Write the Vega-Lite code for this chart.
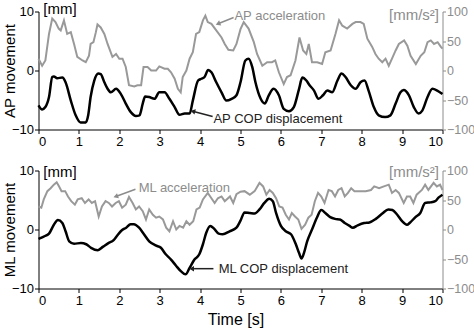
{
"$schema": "https://vega.github.io/schema/vega-lite/v6.json",
"padding": {"left": 1.5, "top": 1.5, "right": 0, "bottom": 2},
"config": {"font": "Liberation Sans", "view": {"stroke": null},
  "axis": {"grid": false, "labelFontSize": 13, "titleFontSize": 15, "titleFontWeight": "normal", "labelColor": "#000", "domainColor": "#000", "tickColor": "#000", "titleColor": "#000", "tickSize": 4, "labelPadding": 2, "labelFont": "Liberation Sans", "titleFont": "Liberation Sans"}},
"spacing": 41,
"bounds": "flush",
"datasets": {
"ap_cop": [{"t":0,"v":-5.9},{"t":0.09,"v":-6.6},{"t":0.17,"v":-6.2},{"t":0.26,"v":-4.5},{"t":0.34,"v":-1.1},{"t":0.38,"v":-1.0},{"t":0.46,"v":-1.3},{"t":0.59,"v":-1.2},{"t":0.67,"v":-2.0},{"t":0.8,"v":-5.1},{"t":0.92,"v":-7.6},{"t":1.04,"v":-8.8},{"t":1.17,"v":-8.8},{"t":1.23,"v":-7.6},{"t":1.29,"v":-4.5},{"t":1.38,"v":-1.7},{"t":1.48,"v":-0.5},{"t":1.54,"v":-0.6},{"t":1.63,"v":-2.0},{"t":1.71,"v":-3.1},{"t":1.79,"v":-3.7},{"t":1.92,"v":-3.1},{"t":2.04,"v":-4.0},{"t":2.16,"v":-5.6},{"t":2.29,"v":-7.1},{"t":2.41,"v":-7.7},{"t":2.5,"v":-7.6},{"t":2.58,"v":-5.6},{"t":2.64,"v":-4.4},{"t":2.74,"v":-4.5},{"t":2.87,"v":-4.8},{"t":2.99,"v":-3.7},{"t":3.12,"v":-3.7},{"t":3.24,"v":-4.8},{"t":3.37,"v":-6.2},{"t":3.49,"v":-7.5},{"t":3.62,"v":-7.3},{"t":3.74,"v":-7.3},{"t":3.82,"v":-5.1},{"t":3.95,"v":-1.7},{"t":4.03,"v":-1.4},{"t":4.11,"v":-1.1},{"t":4.2,"v":0.1},{"t":4.28,"v":-0.3},{"t":4.4,"v":-2.0},{"t":4.53,"v":-3.7},{"t":4.65,"v":-5.1},{"t":4.78,"v":-4.8},{"t":4.9,"v":-4.2},{"t":5.0,"v":-2.0},{"t":5.12,"v":1.7},{"t":5.2,"v":2.0},{"t":5.29,"v":0.6},{"t":5.37,"v":-2.0},{"t":5.5,"v":-4.8},{"t":5.6,"v":-5.6},{"t":5.7,"v":-4.2},{"t":5.82,"v":-3.1},{"t":5.95,"v":-4.2},{"t":6.07,"v":-6.5},{"t":6.2,"v":-6.9},{"t":6.32,"v":-6.2},{"t":6.45,"v":-3.1},{"t":6.53,"v":-1.2},{"t":6.63,"v":-1.7},{"t":6.71,"v":-2.5},{"t":6.82,"v":-3.4},{"t":6.93,"v":-4.8},{"t":7.04,"v":-4.2},{"t":7.15,"v":-3.4},{"t":7.27,"v":-3.7},{"t":7.4,"v":-1.7},{"t":7.5,"v":-0.5},{"t":7.6,"v":-1.1},{"t":7.73,"v":-2.5},{"t":7.85,"v":-3.1},{"t":7.97,"v":-2.0},{"t":8.07,"v":-1.7},{"t":8.17,"v":-3.4},{"t":8.3,"v":-6.2},{"t":8.42,"v":-7.6},{"t":8.58,"v":-7.9},{"t":8.71,"v":-7.6},{"t":8.84,"v":-5.6},{"t":8.96,"v":-3.7},{"t":9.04,"v":-3.3},{"t":9.17,"v":-4.2},{"t":9.29,"v":-6.2},{"t":9.41,"v":-7.3},{"t":9.5,"v":-6.8},{"t":9.63,"v":-4.5},{"t":9.75,"v":-3.1},{"t":9.87,"v":-3.4},{"t":10,"v":-4.0}],
"ap_acc": [{"t":0,"a":20},{"t":0.09,"a":8},{"t":0.17,"a":17},{"t":0.26,"a":62},{"t":0.34,"a":88},{"t":0.42,"a":82},{"t":0.5,"a":71},{"t":0.55,"a":68},{"t":0.63,"a":85},{"t":0.71,"a":62},{"t":0.8,"a":65},{"t":0.88,"a":45},{"t":0.96,"a":23},{"t":1.09,"a":17},{"t":1.17,"a":14},{"t":1.25,"a":25},{"t":1.29,"a":45},{"t":1.36,"a":48},{"t":1.42,"a":65},{"t":1.46,"a":78},{"t":1.54,"a":73},{"t":1.63,"a":62},{"t":1.71,"a":45},{"t":1.83,"a":23},{"t":1.92,"a":28},{"t":2.0,"a":20},{"t":2.08,"a":20},{"t":2.16,"a":6},{"t":2.24,"a":-25},{"t":2.37,"a":-27},{"t":2.45,"a":-25},{"t":2.54,"a":-25},{"t":2.6,"a":6},{"t":2.7,"a":6},{"t":2.79,"a":0},{"t":2.91,"a":0},{"t":2.99,"a":7},{"t":3.12,"a":3},{"t":3.2,"a":3},{"t":3.28,"a":-3},{"t":3.37,"a":-14},{"t":3.45,"a":-31},{"t":3.52,"a":-37},{"t":3.57,"a":-11},{"t":3.66,"a":0},{"t":3.74,"a":20},{"t":3.82,"a":31},{"t":3.9,"a":62},{"t":3.98,"a":65},{"t":4.07,"a":85},{"t":4.13,"a":93},{"t":4.19,"a":82},{"t":4.28,"a":79},{"t":4.4,"a":68},{"t":4.53,"a":56},{"t":4.61,"a":45},{"t":4.7,"a":35},{"t":4.82,"a":34},{"t":4.9,"a":45},{"t":5.0,"a":70},{"t":5.08,"a":82},{"t":5.2,"a":71},{"t":5.33,"a":48},{"t":5.41,"a":28},{"t":5.54,"a":8},{"t":5.66,"a":14},{"t":5.78,"a":14},{"t":5.86,"a":17},{"t":5.95,"a":-3},{"t":6.07,"a":-23},{"t":6.15,"a":-11},{"t":6.24,"a":-8},{"t":6.36,"a":17},{"t":6.46,"a":56},{"t":6.55,"a":34},{"t":6.63,"a":28},{"t":6.69,"a":45},{"t":6.77,"a":14},{"t":6.9,"a":14},{"t":7.02,"a":11},{"t":7.1,"a":31},{"t":7.23,"a":34},{"t":7.35,"a":62},{"t":7.44,"a":85},{"t":7.52,"a":76},{"t":7.64,"a":71},{"t":7.77,"a":79},{"t":7.85,"a":82},{"t":7.97,"a":82},{"t":8.05,"a":79},{"t":8.14,"a":54},{"t":8.26,"a":40},{"t":8.34,"a":28},{"t":8.42,"a":20},{"t":8.51,"a":14},{"t":8.59,"a":20},{"t":8.67,"a":8},{"t":8.75,"a":20},{"t":8.84,"a":34},{"t":8.92,"a":45},{"t":9.05,"a":51},{"t":9.13,"a":42},{"t":9.21,"a":25},{"t":9.34,"a":11},{"t":9.46,"a":25},{"t":9.55,"a":31},{"t":9.63,"a":48},{"t":9.71,"a":51},{"t":9.79,"a":45},{"t":9.88,"a":48},{"t":9.96,"a":40},{"t":10,"a":37}],
"ml_cop": [{"t":0,"v":-1.6},{"t":0.13,"v":-1.2},{"t":0.26,"v":-0.7},{"t":0.38,"v":0.8},{"t":0.48,"v":1.6},{"t":0.59,"v":1.1},{"t":0.67,"v":-0.3},{"t":0.76,"v":-2.0},{"t":0.88,"v":-2.4},{"t":1.05,"v":-2.3},{"t":1.18,"v":-2.5},{"t":1.3,"v":-3.1},{"t":1.47,"v":-3.5},{"t":1.6,"v":-2.9},{"t":1.73,"v":-2.3},{"t":1.86,"v":-1.8},{"t":1.94,"v":-1.1},{"t":2.07,"v":-0.1},{"t":2.17,"v":0.3},{"t":2.28,"v":0.9},{"t":2.36,"v":0.9},{"t":2.49,"v":0.3},{"t":2.61,"v":-0.8},{"t":2.74,"v":-2.0},{"t":2.9,"v":-2.7},{"t":3.03,"v":-3.1},{"t":3.15,"v":-4.2},{"t":3.28,"v":-5.1},{"t":3.4,"v":-6.1},{"t":3.53,"v":-7.1},{"t":3.64,"v":-7.6},{"t":3.74,"v":-6.5},{"t":3.86,"v":-5.1},{"t":3.98,"v":-4.2},{"t":4.07,"v":-2.5},{"t":4.15,"v":-0.6},{"t":4.25,"v":0.6},{"t":4.35,"v":0.1},{"t":4.46,"v":-0.7},{"t":4.56,"v":-0.8},{"t":4.73,"v":-0.3},{"t":4.9,"v":0.3},{"t":5.0,"v":1.5},{"t":5.1,"v":2.9},{"t":5.23,"v":2.8},{"t":5.35,"v":2.7},{"t":5.47,"v":3.4},{"t":5.59,"v":4.5},{"t":5.71,"v":5.2},{"t":5.8,"v":4.8},{"t":5.88,"v":2.8},{"t":6.0,"v":0.6},{"t":6.12,"v":-0.3},{"t":6.25,"v":-0.8},{"t":6.37,"v":-2.5},{"t":6.45,"v":-4.0},{"t":6.51,"v":-4.9},{"t":6.57,"v":-4.0},{"t":6.65,"v":-2.0},{"t":6.77,"v":0},{"t":6.89,"v":2.0},{"t":7.0,"v":3.3},{"t":7.1,"v":2.8},{"t":7.22,"v":2.1},{"t":7.34,"v":1.8},{"t":7.46,"v":1.7},{"t":7.58,"v":1.1},{"t":7.7,"v":0.6},{"t":7.78,"v":0.3},{"t":7.9,"v":0.7},{"t":8.06,"v":1.1},{"t":8.19,"v":1.2},{"t":8.35,"v":1.8},{"t":8.51,"v":2.7},{"t":8.66,"v":3.4},{"t":8.76,"v":3.3},{"t":8.88,"v":2.5},{"t":9.0,"v":1.4},{"t":9.12,"v":0.8},{"t":9.2,"v":1.2},{"t":9.33,"v":2.1},{"t":9.45,"v":2.8},{"t":9.57,"v":4.5},{"t":9.7,"v":4.6},{"t":9.82,"v":4.8},{"t":9.9,"v":5.4},{"t":10,"v":5.9}],
"ml_acc": [{"t":0,"a":39},{"t":0.07,"a":37},{"t":0.13,"a":51},{"t":0.22,"a":65},{"t":0.3,"a":70},{"t":0.38,"a":76},{"t":0.45,"a":80},{"t":0.51,"a":73},{"t":0.57,"a":65},{"t":0.66,"a":65},{"t":0.73,"a":56},{"t":0.81,"a":48},{"t":0.9,"a":42},{"t":0.97,"a":51},{"t":1.07,"a":53},{"t":1.15,"a":45},{"t":1.24,"a":51},{"t":1.32,"a":45},{"t":1.4,"a":48},{"t":1.49,"a":22},{"t":1.57,"a":39},{"t":1.66,"a":48},{"t":1.74,"a":45},{"t":1.82,"a":39},{"t":1.91,"a":45},{"t":1.99,"a":48},{"t":2.07,"a":37},{"t":2.16,"a":42},{"t":2.24,"a":55},{"t":2.33,"a":45},{"t":2.41,"a":34},{"t":2.49,"a":39},{"t":2.58,"a":31},{"t":2.66,"a":17},{"t":2.74,"a":34},{"t":2.83,"a":25},{"t":2.91,"a":20},{"t":2.99,"a":22},{"t":3.08,"a":17},{"t":3.16,"a":3},{"t":3.24,"a":-3},{"t":3.33,"a":14},{"t":3.41,"a":0},{"t":3.49,"a":6},{"t":3.58,"a":3},{"t":3.66,"a":14},{"t":3.74,"a":8},{"t":3.83,"a":14},{"t":3.91,"a":34},{"t":3.99,"a":37},{"t":4.07,"a":51},{"t":4.19,"a":62},{"t":4.28,"a":53},{"t":4.36,"a":45},{"t":4.44,"a":53},{"t":4.53,"a":56},{"t":4.61,"a":48},{"t":4.74,"a":56},{"t":4.82,"a":45},{"t":4.9,"a":60},{"t":5.0,"a":64},{"t":5.1,"a":65},{"t":5.23,"a":59},{"t":5.35,"a":65},{"t":5.47,"a":79},{"t":5.56,"a":73},{"t":5.64,"a":59},{"t":5.72,"a":67},{"t":5.8,"a":62},{"t":5.88,"a":53},{"t":5.96,"a":39},{"t":6.04,"a":37},{"t":6.12,"a":25},{"t":6.2,"a":17},{"t":6.27,"a":28},{"t":6.35,"a":22},{"t":6.43,"a":17},{"t":6.51,"a":1},{"t":6.6,"a":8},{"t":6.68,"a":20},{"t":6.76,"a":25},{"t":6.84,"a":48},{"t":6.92,"a":62},{"t":7.0,"a":56},{"t":7.08,"a":45},{"t":7.18,"a":67},{"t":7.26,"a":65},{"t":7.34,"a":56},{"t":7.42,"a":67},{"t":7.5,"a":70},{"t":7.58,"a":56},{"t":7.66,"a":62},{"t":7.74,"a":70},{"t":7.82,"a":65},{"t":7.94,"a":65},{"t":8.1,"a":65},{"t":8.23,"a":67},{"t":8.31,"a":73},{"t":8.43,"a":70},{"t":8.55,"a":73},{"t":8.67,"a":76},{"t":8.75,"a":62},{"t":8.84,"a":67},{"t":8.92,"a":62},{"t":9.04,"a":45},{"t":9.12,"a":56},{"t":9.2,"a":56},{"t":9.28,"a":45},{"t":9.36,"a":59},{"t":9.49,"a":67},{"t":9.57,"a":76},{"t":9.65,"a":67},{"t":9.78,"a":79},{"t":9.86,"a":73},{"t":9.94,"a":76},{"t":10,"a":67}],
"ap_notes": [{"t":4.85,"v":9.32,"label":"AP acceleration","kind":"acc"},{"t":4.33,"v":-8.14,"label":"AP COP displacement","kind":"cop"}],
"ap_arrows": [{"t":4.83,"v":8.98,"t2":4.46,"v2":7.97,"kind":"acc","ang":248},{"t":4.31,"v":-7.8,"t2":3.84,"v2":-6.95,"kind":"cop","ang":285}],
"ml_notes": [{"t":2.48,"v":6.97,"label":"ML acceleration","kind":"acc"},{"t":4.46,"v":-6.64,"label":"ML COP displacement","kind":"cop"}],
"ml_arrows": [{"t":2.40,"v":6.81,"t2":1.93,"v2":5.63,"kind":"acc","ang":250},{"t":4.33,"v":-6.64,"t2":3.81,"v2":-6.64,"kind":"cop","ang":270}]
},
"vconcat": [
{
 "width": 404, "height": 118,
 "layer": [
  {"data": {"name": "ap_acc"}, "mark": {"type": "line", "color": "#999999", "strokeWidth": 2},
   "encoding": {
    "x": {"field": "t", "type": "quantitative", "title": null, "scale": {"domain": [0, 10], "nice": false}, "axis": {"values": [0,1,2,3,4,5,6,7,8,9,10]}},
    "y": {"field": "a", "type": "quantitative", "scale": {"domain": [-100, 100], "nice": false},
      "axis": {"orient": "right", "values": [-100,-50,0,50,100], "title": "[mm/s²]", "titleAngle": 0, "titleAlign": "right", "titleBaseline": "middle", "titleX": -4, "titleY": 3, "titleColor": "#8c8c8c", "labelColor": "#8c8c8c", "domainColor": "#8c8c8c", "tickColor": "#8c8c8c", "tickSize": 3, "labelPadding": 1, "labelFontSize": 12.5}}}},
  {"layer": [
    {"data": {"name": "ap_cop"}, "mark": {"type": "line", "color": "#000000", "strokeWidth": 2.5, "interpolate": "monotone"},
     "encoding": {
      "x": {"field": "t", "type": "quantitative", "title": null, "scale": {"domain": [0, 10], "nice": false}},
      "y": {"field": "v", "type": "quantitative", "title": "AP movement", "scale": {"domain": [-10, 10], "nice": false},
        "axis": {"orient": "left", "values": [-10,-5,0,5,10], "titleAngle": -90, "titleAlign": "center", "titleBaseline": "middle", "titleX": -29, "titleY": 59, "labelPadding": 1}}}},
    {"data": {"values": [{"t": 0.12, "v": 10.34, "label": "[mm]"}]}, "mark": {"type": "text", "align": "left", "baseline": "middle", "fontSize": 15, "color": "#000000"},
     "encoding": {
      "x": {"field": "t", "type": "quantitative", "title": null, "scale": {"domain": [0, 10], "nice": false}},
      "y": {"field": "v", "type": "quantitative", "title": "AP movement", "scale": {"domain": [-10, 10], "nice": false}},
      "text": {"field": "label"}}},
    {"data": {"name": "ap_notes"}, "mark": {"type": "text", "align": "left", "baseline": "middle", "fontSize": 13},
     "encoding": {
      "x": {"field": "t", "type": "quantitative", "title": null, "scale": {"domain": [0, 10], "nice": false}},
      "y": {"field": "v", "type": "quantitative", "title": "AP movement", "scale": {"domain": [-10, 10], "nice": false}},
      "text": {"field": "label"},
      "color": {"field": "kind", "type": "nominal", "scale": {"domain": ["acc", "cop"], "range": ["#8c8c8c", "#222222"]}, "legend": null}}},
    {"data": {"name": "ap_arrows"}, "mark": {"type": "rule", "strokeWidth": 1.5},
     "encoding": {
      "x": {"field": "t", "type": "quantitative", "title": null, "scale": {"domain": [0, 10], "nice": false}},
      "y": {"field": "v", "type": "quantitative", "title": "AP movement", "scale": {"domain": [-10, 10], "nice": false}},
      "x2": {"field": "t2"}, "y2": {"field": "v2"},
      "color": {"field": "kind", "type": "nominal", "scale": {"domain": ["acc", "cop"], "range": ["#8c8c8c", "#555555"]}, "legend": null}}},
    {"data": {"name": "ap_arrows"}, "mark": {"type": "point", "shape": "triangle", "filled": true, "size": 30, "opacity": 1},
     "encoding": {
      "x": {"field": "t2", "type": "quantitative", "title": null, "scale": {"domain": [0, 10], "nice": false}},
      "y": {"field": "v2", "type": "quantitative", "title": "AP movement", "scale": {"domain": [-10, 10], "nice": false}},
      "angle": {"field": "ang", "type": "quantitative", "scale": null},
      "color": {"field": "kind", "type": "nominal", "scale": {"domain": ["acc", "cop"], "range": ["#8c8c8c", "#555555"]}, "legend": null}}}
  ]}
 ],
 "resolve": {"scale": {"y": "independent", "color": "independent"}}
},
{
 "width": 404, "height": 118,
 "layer": [
  {"data": {"name": "ml_acc"}, "mark": {"type": "line", "color": "#999999", "strokeWidth": 2},
   "encoding": {
    "x": {"field": "t", "type": "quantitative", "title": "Time [s]", "scale": {"domain": [0, 10], "nice": false}, "axis": {"values": [0,1,2,3,4,5,6,7,8,9,10], "titleFontSize": 16, "titleX": 197, "titleY": 31, "titleBaseline": "middle"}},
    "y": {"field": "a", "type": "quantitative", "scale": {"domain": [-100, 100], "nice": false},
      "axis": {"orient": "right", "values": [-100,-50,0,50,100], "title": "[mm/s²]", "titleAngle": 0, "titleAlign": "right", "titleBaseline": "middle", "titleX": -4, "titleY": 1, "titleColor": "#8c8c8c", "labelColor": "#8c8c8c", "domainColor": "#8c8c8c", "tickColor": "#8c8c8c", "tickSize": 3, "labelPadding": 1, "labelFontSize": 12.5}}}},
  {"layer": [
    {"data": {"name": "ml_cop"}, "mark": {"type": "line", "color": "#000000", "strokeWidth": 2.5, "interpolate": "monotone"},
     "encoding": {
      "x": {"field": "t", "type": "quantitative", "title": "Time [s]", "scale": {"domain": [0, 10], "nice": false}},
      "y": {"field": "v", "type": "quantitative", "title": "ML movement", "scale": {"domain": [-10, 10], "nice": false},
        "axis": {"orient": "left", "values": [-10,-5,0,5,10], "titleAngle": -90, "titleAlign": "center", "titleBaseline": "middle", "titleX": -29, "titleY": 59, "labelPadding": 1}}}},
    {"data": {"values": [{"t": 0.12, "v": 9.83, "label": "[mm]"}]}, "mark": {"type": "text", "align": "left", "baseline": "middle", "fontSize": 15, "color": "#000000"},
     "encoding": {
      "x": {"field": "t", "type": "quantitative", "title": "Time [s]", "scale": {"domain": [0, 10], "nice": false}},
      "y": {"field": "v", "type": "quantitative", "title": "ML movement", "scale": {"domain": [-10, 10], "nice": false}},
      "text": {"field": "label"}}},
    {"data": {"name": "ml_notes"}, "mark": {"type": "text", "align": "left", "baseline": "middle", "fontSize": 13},
     "encoding": {
      "x": {"field": "t", "type": "quantitative", "title": "Time [s]", "scale": {"domain": [0, 10], "nice": false}},
      "y": {"field": "v", "type": "quantitative", "title": "ML movement", "scale": {"domain": [-10, 10], "nice": false}},
      "text": {"field": "label"},
      "color": {"field": "kind", "type": "nominal", "scale": {"domain": ["acc", "cop"], "range": ["#8c8c8c", "#222222"]}, "legend": null}}},
    {"data": {"name": "ml_arrows"}, "mark": {"type": "rule", "strokeWidth": 1.5},
     "encoding": {
      "x": {"field": "t", "type": "quantitative", "title": "Time [s]", "scale": {"domain": [0, 10], "nice": false}},
      "y": {"field": "v", "type": "quantitative", "title": "ML movement", "scale": {"domain": [-10, 10], "nice": false}},
      "x2": {"field": "t2"}, "y2": {"field": "v2"},
      "color": {"field": "kind", "type": "nominal", "scale": {"domain": ["acc", "cop"], "range": ["#8c8c8c", "#555555"]}, "legend": null}}},
    {"data": {"name": "ml_arrows"}, "mark": {"type": "point", "shape": "triangle", "filled": true, "size": 30, "opacity": 1},
     "encoding": {
      "x": {"field": "t2", "type": "quantitative", "title": "Time [s]", "scale": {"domain": [0, 10], "nice": false}},
      "y": {"field": "v2", "type": "quantitative", "title": "ML movement", "scale": {"domain": [-10, 10], "nice": false}},
      "angle": {"field": "ang", "type": "quantitative", "scale": null},
      "color": {"field": "kind", "type": "nominal", "scale": {"domain": ["acc", "cop"], "range": ["#8c8c8c", "#555555"]}, "legend": null}}}
  ]}
 ],
 "resolve": {"scale": {"y": "independent", "color": "independent"}}
}
]
}
